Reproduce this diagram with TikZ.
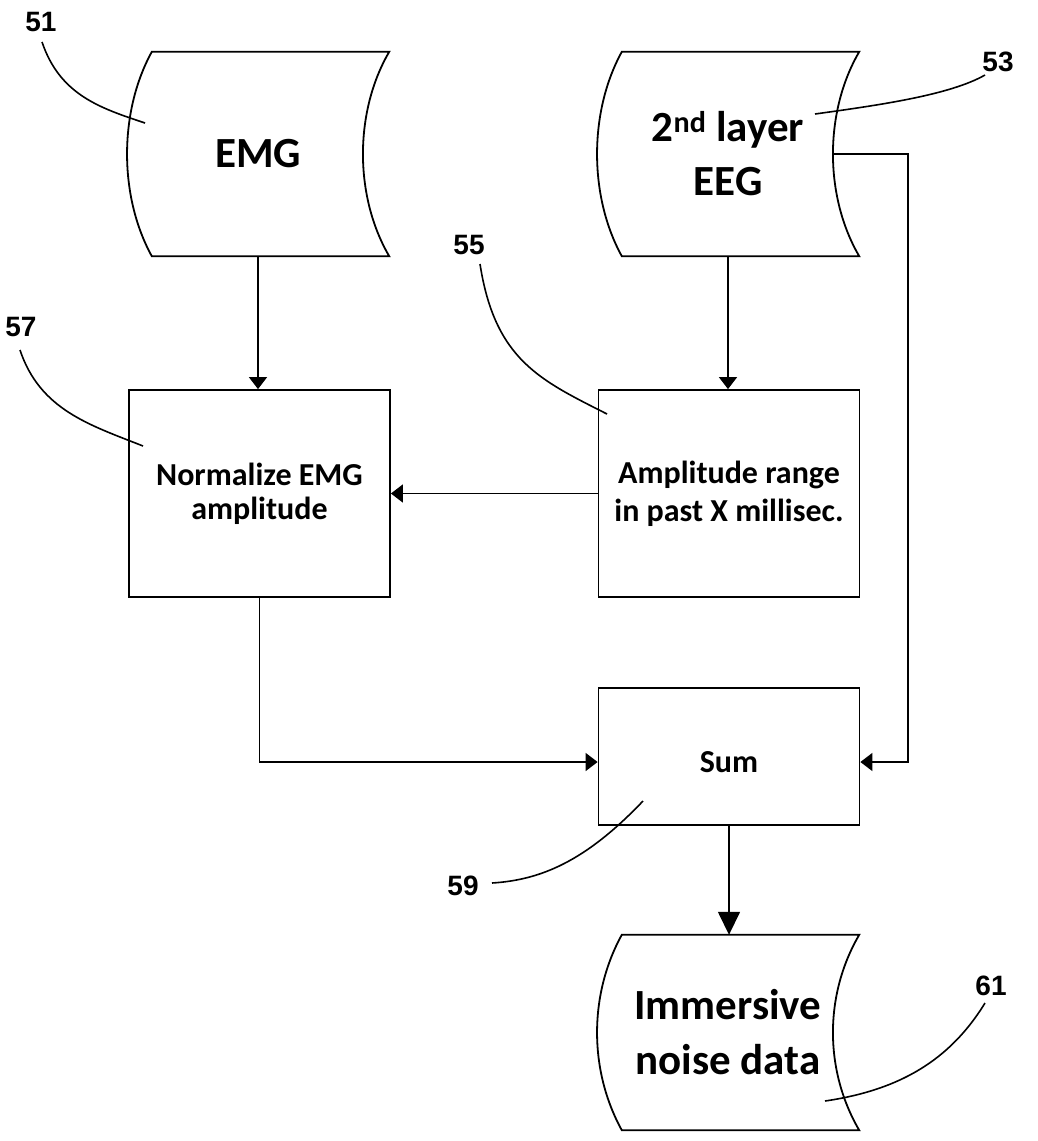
\documentclass[tikz,border=0pt]{standalone}
\usepackage{fontspec}
\setmainfont{Carlito}
\newfontfamily\numfont{Liberation Sans}
\usetikzlibrary{arrows.meta,calc}

\tikzset{
  tape/.style={minimum width=262pt, inner sep=0pt, font=\fontsize{43}{54}\selectfont\bfseries, align=center},
  procbox/.style={draw, line width=1.8pt, minimum width=261pt, minimum height=207pt, inner sep=0pt,
    font=\fontsize{32}{34}\selectfont\bfseries, align=center},
  outline/.style={line width=1.8pt, line join=miter},
  flow/.style={line width=1.5pt, -{Triangle[length=12pt,width=18pt]}},
  bigflow/.style={line width=1.5pt, -{Triangle[length=23pt,width=22pt]}},
  leader/.style={line width=1.6pt},
  refnum/.style={font=\numfont\bfseries\fontsize{28}{30}\selectfont, inner sep=0pt}
}

% outline of a stored-data symbol: bulging left side, hollow right side
\newcommand\tapeoutline[1]{%
  \draw[outline] ([xshift=25pt]#1.north west) -- (#1.north east)
    .. controls ([xshift=-35pt,yshift=-60pt]#1.north east) and ([xshift=-35pt,yshift=60pt]#1.south east) .. (#1.south east)
    -- ([xshift=25pt]#1.south west)
    .. controls ([xshift=-8pt,yshift=60pt]#1.south west) and ([xshift=-8pt,yshift=-60pt]#1.north west) .. cycle;}

\begin{document}
\begin{tikzpicture}[x=1pt,y=-1pt]
\useasboundingbox (0,0) rectangle (1037,1141);

% data symbols
\node[tape, minimum height=204pt] (emg) at (258,154) {EMG};
\node[tape, minimum height=204pt] (eeg) at (728,154) {2\textsuperscript{nd} layer\\EEG};
\node[tape, minimum height=195pt, font=\fontsize{43}{55}\selectfont\bfseries] (imm) at (728,1032.5) {Immersive\\noise data};
\tapeoutline{emg}
\tapeoutline{eeg}
\tapeoutline{imm}

% processing steps
\node[procbox] (norm) at (259.5,493.5) {Normalize EMG\\amplitude};
\node[procbox, font=\fontsize{32}{38}\selectfont\bfseries] (amp) at (729,493.5) {Amplitude range\\in past X millisec.};
\node[procbox, minimum height=137pt] (sum) at (729,756.5) {};
\node[font=\fontsize{32}{34}\selectfont\bfseries] (sumtext) at (729,762) {Sum};

% connection points
\coordinate (eegr) at ([xshift=-26pt]eeg.east);
\coordinate (sumin) at (729,762);
\coordinate (bypass) at (908,762);

% connectors
\draw[flow] (emg.south) -- (emg.south |- norm.north);
\draw[flow] (eeg.south) -- (eeg.south |- amp.north);
\draw[flow] (amp.west) -- (norm.east);
\draw[flow] (norm.south) |- (sum.west |- sumin);
\draw[flow] (eegr) -| (bypass) -- (sum.east |- sumin);
\draw[bigflow] (sum.south) -- (sum.south |- imm.north);

% reference numerals and leader lines
\node[refnum] (n51) at (41,22) {51};
\node[refnum] (n53) at (998,62) {53};
\node[refnum] (n55) at (469,245) {55};
\node[refnum] (n57) at (21,327) {57};
\node[refnum] (n59) at (463,886) {59};
\node[refnum] (n61) at (991,986) {61};

\draw[leader] (42,42) .. controls (60,95) and (100,108) .. (145,123);
\draw[leader] (985,75) .. controls (950,95) and (880,105) .. (815,114);
\draw[leader] (480,264) .. controls (495,360) and (540,380) .. (607,414);
\draw[leader] (20,350) .. controls (40,410) and (90,425) .. (143,446);
\draw[leader] (492,883) .. controls (540,880) and (585,862) .. (643,801);
\draw[leader] (985,1003) .. controls (950,1060) and (900,1090) .. (825,1101);
\end{tikzpicture}
\end{document}
